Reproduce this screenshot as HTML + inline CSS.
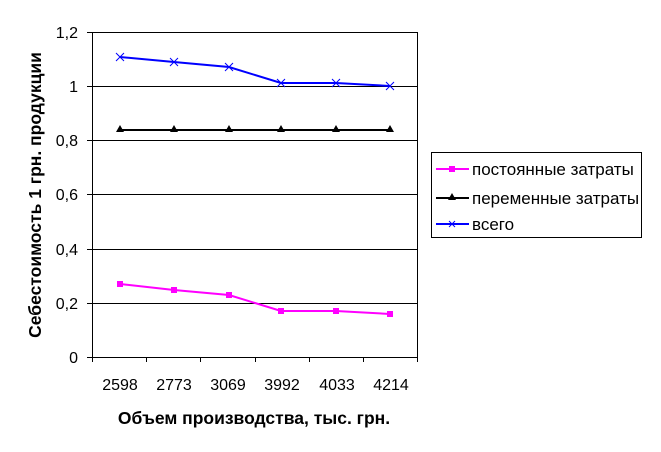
<!DOCTYPE html>
<html><head><meta charset="utf-8"><style>body{margin:0;background:#fff}svg{display:block}</style></head><body>
<svg width="661" height="452" xmlns="http://www.w3.org/2000/svg" font-family="Liberation Sans, sans-serif">
<rect width="661" height="452" fill="#fff"/>
<g stroke="#000" stroke-width="1">
<line x1="92" y1="32.5" x2="417" y2="32.5"/>
<line x1="92" y1="86.5" x2="417" y2="86.5"/>
<line x1="92" y1="140.5" x2="417" y2="140.5"/>
<line x1="92" y1="194.5" x2="417" y2="194.5"/>
<line x1="92" y1="249.5" x2="417" y2="249.5"/>
<line x1="92" y1="303.5" x2="417" y2="303.5"/>
<line x1="92" y1="357.5" x2="417" y2="357.5"/>
<line x1="417.5" y1="32" x2="417.5" y2="357"/>
<line x1="92.5" y1="32" x2="92.5" y2="362"/>
<line x1="87" y1="32.5" x2="92" y2="32.5"/><line x1="87" y1="86.5" x2="92" y2="86.5"/><line x1="87" y1="140.5" x2="92" y2="140.5"/><line x1="87" y1="194.5" x2="92" y2="194.5"/><line x1="87" y1="249.5" x2="92" y2="249.5"/><line x1="87" y1="303.5" x2="92" y2="303.5"/><line x1="87" y1="357.5" x2="92" y2="357.5"/>
<line x1="146.5" y1="357" x2="146.5" y2="362"/><line x1="200.5" y1="357" x2="200.5" y2="362"/><line x1="255.5" y1="357" x2="255.5" y2="362"/><line x1="309.5" y1="357" x2="309.5" y2="362"/><line x1="363.5" y1="357" x2="363.5" y2="362"/><line x1="417.5" y1="357" x2="417.5" y2="362"/>
</g>
<g font-size="16" text-anchor="end">
<text x="78" y="38">1,2</text><text x="78" y="92">1</text><text x="78" y="146">0,8</text><text x="78" y="200">0,6</text><text x="78" y="255">0,4</text><text x="78" y="309">0,2</text><text x="78" y="363">0</text>
</g>
<g font-size="16" text-anchor="middle">
<text x="120" y="390">2598</text><text x="174" y="390">2773</text><text x="228" y="390">3069</text><text x="282" y="390">3992</text><text x="337" y="390">4033</text><text x="391" y="390">4214</text>
</g>
<text x="254" y="424" font-size="17.5" font-weight="bold" text-anchor="middle">Объем производства, тыс. грн.</text>
<text transform="translate(41,195) rotate(-90)" font-size="17.5" font-weight="bold" text-anchor="middle">Себестоимость 1 грн. продукции</text>
<polyline points="120,57 174,62 229,67 281,83 336,83 390,86" fill="none" stroke="#0000ff" stroke-width="2"/>
<g stroke="#0000ff" stroke-width="1">
<path d="M116,53l8,8M124,53l-8,8M170,58l8,8M178,58l-8,8M225,63l8,8M233,63l-8,8M277,79l8,8M285,79l-8,8M332,79l8,8M340,79l-8,8M386,82l8,8M394,82l-8,8"/>
</g>
<polyline points="120,130 174,130 229,130 281,130 336,130 390,130" fill="none" stroke="#000" stroke-width="2"/>
<g fill="#000">
<path d="M120,125l4,7h-8zM174,125l4,7h-8zM229,125l4,7h-8zM281,125l4,7h-8zM336,125l4,7h-8zM390,125l4,7h-8z"/>
</g>
<polyline points="120,284 174,290 229,295 281,311 336,311 390,314" fill="none" stroke="#ff00ff" stroke-width="2"/>
<g fill="#ff00ff">
<rect x="117" y="281" width="6" height="6"/><rect x="171" y="287" width="6" height="6"/><rect x="226" y="292" width="6" height="6"/><rect x="278" y="308" width="6" height="6"/><rect x="333" y="308" width="6" height="6"/><rect x="387" y="311" width="6" height="6"/>
</g>
<rect x="431.5" y="152.5" width="210" height="85" fill="#fff" stroke="#000"/>
<line x1="436" y1="169" x2="469" y2="169" stroke="#ff00ff" stroke-width="2"/><rect x="449" y="166" width="6" height="6" fill="#ff00ff"/>
<line x1="436" y1="198" x2="469" y2="198" stroke="#000" stroke-width="2"/><path d="M452,193l4,7h-8z"/>
<line x1="436" y1="224" x2="469" y2="224" stroke="#0000ff" stroke-width="2"/><path d="M449,221l6,6M455,221l-6,6" stroke="#0000ff"/>
<g font-size="17"><text x="472" y="175">постоянные затраты</text><text x="472" y="204">переменные затраты</text><text x="472" y="230">всего</text></g>
</svg>
</body></html>
